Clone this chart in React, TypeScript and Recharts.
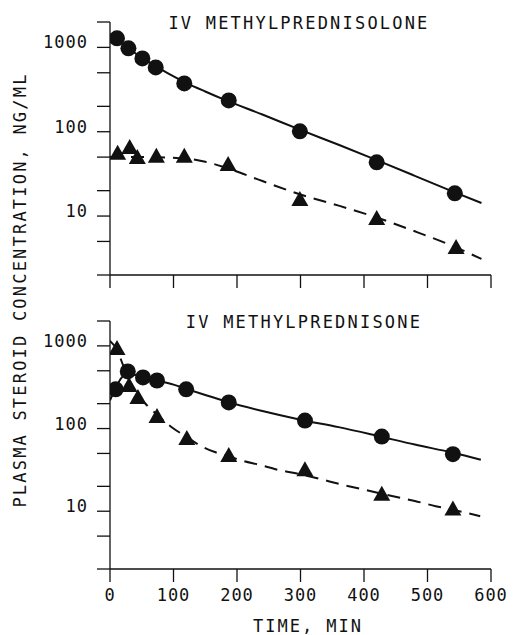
import React from 'react';
import { ComposedChart, Line, Scatter, XAxis, YAxis } from 'recharts';

// shared axes
const timeTicks = [0, 100, 200, 300, 400, 500, 600];
const concTicks = [2, 5, 10, 20, 50, 100, 200, 500, 1000, 2000];
const labelledConc = [10, 100, 1000];

// panel 1: IV methylprednisolone
const p1CircleTimes = [11, 29, 51, 72, 117, 187, 299, 420, 543];
const p1CircleConc = [1280, 975, 740, 578, 374, 235, 101, 43.4, 18.6];
const p1TriTimes = [12, 31, 43, 73, 117, 186, 299, 420, 545];
const p1TriConc = [57, 67, 51, 52.5, 52.5, 42, 16.2, 9.6, 4.35];
const p1SolidTimes = [0, 10, 20, 30, 45, 60, 75, 90, 120, 150, 180, 240, 300, 360, 420, 480, 540, 585];
const p1SolidConc = [1430, 1250, 1100, 970, 800, 680, 580, 500, 380, 300, 240, 160, 105, 70, 46, 30, 19.5, 14.3];
const p1DashTimes = [0, 60, 120, 150, 180, 240, 300, 360, 420, 480, 540, 585];
const p1DashConc = [50, 50, 48, 44, 38, 26, 18, 13.3, 9.6, 6.6, 4.4, 3.1];

// panel 2: IV methylprednisone
const p2CircleTimes = [9, 28, 52, 74, 120, 187, 307, 428, 540];
const p2CircleConc = [298, 491, 415, 381, 298, 207, 125, 80, 49];
const p2TriTimes = [11, 30, 44, 74, 121, 187, 307, 428, 540];
const p2TriConc = [959, 341, 245, 144, 78, 48.4, 32.6, 16.5, 10.9];
const p2SolidTimes = [0, 9, 18, 28, 40, 52, 74, 100, 120, 150, 187, 240, 300, 360, 420, 480, 540, 584];
const p2SolidConc = [220, 310, 410, 460, 445, 420, 382, 340, 302, 255, 208, 163, 128, 104, 82, 64, 51, 42];
const p2DashTimes = [0, 11, 20, 30, 44, 60, 75, 88, 100, 120, 144, 165, 187, 210, 235, 265, 300, 330, 365, 403, 444, 480, 513, 545, 583];
const p2DashConc = [1150, 900, 600, 390, 255, 185, 145, 118, 100, 80, 61, 52, 46, 40.5, 36.4, 31.6, 28, 24.6, 21, 18, 15.3, 13.3, 11.5, 10.2, 8.7];

const pts = (ts: number[], vs: number[]) => ts.map((t, i) => ({ t, v: vs[i] }));

const FONT = '"DejaVu Sans Mono", monospace';
const INK = '#111';

const Dot = (p: any) => <circle cx={p.cx} cy={p.cy} r={8} fill={INK} />;
const Tri = (p: any) => (
  <polygon
    points={`${p.cx - 8.5},${p.cy + 7.5} ${p.cx + 8.5},${p.cy + 7.5} ${p.cx},${p.cy - 7.5}`}
    fill={INK}
  />
);

const YTick = (p: any) => {
  if (!labelledConc.includes(p.payload.value)) return <g />;
  return (
    <text x={p.x} y={p.y - 5} textAnchor="end" dominantBaseline="central" fontFamily={FONT} fontSize={17} letterSpacing={1} fill={INK}>
      {p.payload.value}
    </text>
  );
};

const XTick = (p: any) => (
  <text x={p.x} y={p.y} textAnchor="middle" dominantBaseline="hanging" fontFamily={FONT} fontSize={17} letterSpacing={1} fill={INK}>
    {p.payload.value}
  </text>
);

function Panel({ height, top, bottomAxis, circles, tris, solid, dash }: any) {
  return (
    <ComposedChart width={528} height={height} margin={{ top, right: 37, bottom: 0, left: 0 }}>
      <XAxis
        type="number"
        dataKey="t"
        domain={[0, 600]}
        ticks={timeTicks}
        allowDataOverflow
        height={bottomAxis}
        tickSize={13}
        tickMargin={6}
        axisLine={{ stroke: INK, strokeWidth: 1.3 }}
        tickLine={{ stroke: INK, strokeWidth: 1.3 }}
        tick={bottomAxis > 30 ? XTick : () => <g />}
      />
      <YAxis
        type="number"
        dataKey="v"
        scale="log"
        domain={[2, 2000]}
        ticks={concTicks}
        allowDataOverflow
        width={110}
        tickSize={13}
        tickMargin={9}
        axisLine={{ stroke: INK, strokeWidth: 1.3 }}
        tickLine={{ stroke: INK, strokeWidth: 1.3 }}
        tick={YTick}
      />
      <Line data={solid} dataKey="v" type="monotone" stroke={INK} strokeWidth={2} dot={false} isAnimationActive={false} />
      <Line data={dash} dataKey="v" type="monotone" stroke={INK} strokeWidth={2} strokeDasharray="13 8" dot={false} isAnimationActive={false} />
      <Scatter data={circles} dataKey="v" shape={Dot} isAnimationActive={false} />
      <Scatter data={tris} dataKey="v" shape={Tri} isAnimationActive={false} />
    </ComposedChart>
  );
}

export default function App() {
  const txt = { fontFamily: FONT, fontSize: 17, fill: INK } as const;
  return (
    <div style={{ position: 'absolute', left: 0, top: 0, width: 528, height: 635, background: '#fff' }}>
      <div style={{ position: 'absolute', left: 0, top: 0 }}>
        <Panel
          height={300}
          top={22}
          bottomAxis={25}
          circles={pts(p1CircleTimes, p1CircleConc)}
          tris={pts(p1TriTimes, p1TriConc)}
          solid={pts(p1SolidTimes, p1SolidConc)}
          dash={pts(p1DashTimes, p1DashConc)}
        />
      </div>
      <div style={{ position: 'absolute', left: 0, top: 300 }}>
        <Panel
          height={335}
          top={21}
          bottomAxis={66}
          circles={pts(p2CircleTimes, p2CircleConc)}
          tris={pts(p2TriTimes, p2TriConc)}
          solid={pts(p2SolidTimes, p2SolidConc)}
          dash={pts(p2DashTimes, p2DashConc)}
        />
      </div>
      <svg width={528} height={635} style={{ position: 'absolute', left: 0, top: 0, pointerEvents: 'none' }}>
        <text x={299} y={23} textAnchor="middle" dominantBaseline="central" letterSpacing={2.2} {...txt}>
          IV METHYLPREDNISOLONE
        </text>
        <text x={304} y={322} textAnchor="middle" dominantBaseline="central" letterSpacing={2.2} {...txt}>
          IV METHYLPREDNISONE
        </text>
        <text x={308} y={626} textAnchor="middle" dominantBaseline="central" letterSpacing={2} {...txt}>
          TIME, MIN
        </text>
        <text
          x={20}
          y={290}
          textAnchor="middle"
          dominantBaseline="central"
          letterSpacing={2.2}
          transform="rotate(-90 20 290)"
          {...txt}
        >
          PLASMA STEROID CONCENTRATION, NG/ML
        </text>
      </svg>
    </div>
  );
}
